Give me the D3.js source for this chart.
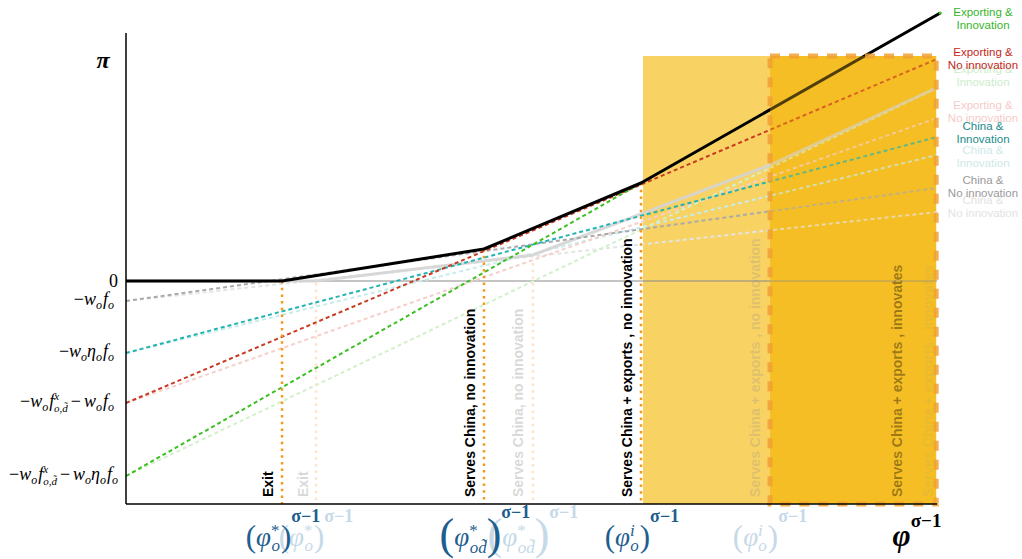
<!DOCTYPE html>
<html><head><meta charset="utf-8">
<script src="https://cdn.jsdelivr.net/npm/d3@7"></script>
<style>html,body{margin:0;padding:0;background:#fff;}svg{display:block;}</style>
</head><body>
<svg id="chart" width="1022" height="559"></svg>
<script>
// ---------------- data ----------------
const seriesNames = ["China & No innovation", "China & Innovation", "Exporting & No innovation", "Exporting & Innovation"];
const seriesIntercepts = [-2.0, -7.2, -12.2, -19.5];      // profit at zero productivity
const seriesEndX = [100, 100, 100, 100.4];
const seriesEndValues = [9.3, 14.4, 22.2, 26.8];          // profit at right end (baseline)
const ghostEndValues = [6.9, 12.6, 16.3, 19.3];           // profit at right end (faded scenario)
const envelopeX = [0, 19.24, 44.14, 63.5, 100.4];
const envelopeY = [0, 0, 3.2, 9.8, 26.8];
const ghostEnvX = [0, 23.43, 50.18, 79.41, 99.9];
const ghostEnvY = [0, 0, 2.6, 11.6, 19.3];
const thresholds = [19.24, 44.14, 63.5];
const thresholdTops = [0, 3.2, 9.8];
const ghostThresholds = [23.43, 50.18, 79.41];
const ghostThresholdTops = [-0.2, 1.8, 11.6];
const regionLabels = ["Exit", "Serves China, no innovation", "Serves China + exports , no innovation", "Serves China + exports , innovates"];
const lightRegion = [63.75, 79.41];
const darkRegion = [79.41, 99.9];
const regionTop = 22.5;
const yTickValues = [0, -2.0, -7.2, -12.2, -19.5];

// ---------------- setup ----------------
const svg = d3.select("#chart");
const x = d3.scaleLinear().domain([0, 100]).range([126, 937]);
const y = d3.scaleLinear().domain([-22.3, 24.8]).range([504, 33]);
const darkCol = ["#aaaaaa", "#22b3b3", "#c93a22", "#3cbf22"];
const fadeCol = ["#e4e4e4", "#c8ecec", "#f5d0cb", "#d3f0cb"];
const labDark = ["#9a9a9a", "#1d8b8b", "#c4271c", "#36b52a"];
const labFade = ["#e3e3e3", "#cfe8e9", "#f5cbc9", "#cdeccb"];
const serif = "'Liberation Serif', 'DejaVu Serif', serif";
const sans = "'Liberation Sans', Arial, sans-serif";
const line = d3.line().x(d => x(d[0])).y(d => y(d[1]));

// regions (base)
svg.append("rect").attr("x", x(lightRegion[0])).attr("y", y(regionTop))
  .attr("width", x(lightRegion[1]) - x(lightRegion[0])).attr("height", y(-22.3) - y(regionTop))
  .attr("fill", "#f8d263");
svg.append("rect").attr("x", x(darkRegion[0])).attr("y", y(regionTop))
  .attr("width", x(darkRegion[1]) - x(darkRegion[0])).attr("height", y(-22.3) - y(regionTop))
  .attr("fill", "#f5bf24");

// zero line
svg.append("line").attr("x1", x(0)).attr("x2", x(100)).attr("y1", y(0)).attr("y2", y(0))
  .attr("stroke", "#8a8a8a").attr("stroke-width", 1.2);

// faded dashed lines
seriesNames.forEach((n, i) => {
  svg.append("path").attr("d", line([[0, seriesIntercepts[i]], [100, ghostEndValues[i]]]))
    .attr("fill", "none").attr("stroke", fadeCol[i]).attr("stroke-width", 2).attr("stroke-dasharray", "4,3");
});
// faded envelope
svg.append("path").attr("d", line(ghostEnvX.map((v, i) => [v, ghostEnvY[i]])))
  .attr("fill", "none").attr("stroke", "#d4d4d4").attr("stroke-width", 3).attr("stroke-opacity", 0.9);

// faded threshold dotted lines
ghostThresholds.slice(0, 2).forEach((t, i) => {
  svg.append("line").attr("x1", x(t)).attr("x2", x(t)).attr("y1", y(ghostThresholdTops[i])).attr("y2", y(-22.3))
    .attr("stroke", "#fde3c8").attr("stroke-width", 2.5).attr("stroke-dasharray", "2.5,4.2");
});

// dark dashed lines
seriesNames.forEach((n, i) => {
  svg.append("path").attr("d", line([[0, seriesIntercepts[i]], [seriesEndX[i], seriesEndValues[i]]]))
    .attr("fill", "none").attr("stroke", darkCol[i]).attr("stroke-width", 2).attr("stroke-dasharray", "4,3");
});

// threshold dotted lines
thresholds.forEach((t, i) => {
  svg.append("line").attr("x1", x(t)).attr("x2", x(t)).attr("y1", y(thresholdTops[i])).attr("y2", y(-22.3))
    .attr("stroke", "#f39a1e").attr("stroke-width", 2.5).attr("stroke-dasharray", "2.5,4.2");
});

// envelope
svg.append("path").attr("d", line(envelopeX.map((v, i) => [v, envelopeY[i]])))
  .attr("fill", "none").attr("stroke", "#000").attr("stroke-width", 3).attr("stroke-linejoin", "round");
svg.append("circle").attr("cx", x(envelopeX[4])).attr("cy", y(envelopeY[4])).attr("r", 1.6).attr("fill", "#3cbf22");

// rotated region labels
function vlabel(px, text, fill, op) {
  svg.append("text").attr("transform", `translate(${px},497) rotate(-90)`)
    .attr("font-family", sans).attr("font-size", 14).attr("font-weight", "bold")
    .attr("fill", fill).attr("fill-opacity", op).text(text);
}
vlabel(x(thresholds[0]) - 9, regionLabels[0], "#000", 1);
vlabel(x(ghostThresholds[0]) - 8, regionLabels[0], "#cfcfcf", 0.8);
vlabel(x(thresholds[1]) - 9, regionLabels[1], "#000", 1);
vlabel(x(ghostThresholds[1]) - 10, regionLabels[1], "#cfcfcf", 0.8);
vlabel(x(thresholds[2]) - 9, regionLabels[2], "#000", 1);
vlabel(x(ghostThresholds[2]) - 10, regionLabels[2], "#8c8c8c", 0.25);
vlabel(x(darkRegion[1]) - 34, regionLabels[3], "#000", 0.55);
vlabel(x(darkRegion[1]) - 3, regionLabels[3], "#8c8c8c", 0.18);

// overlay on dark region
svg.append("rect").attr("x", x(darkRegion[0])).attr("y", y(regionTop))
  .attr("width", x(darkRegion[1]) - x(darkRegion[0])).attr("height", y(-22.3) - y(regionTop))
  .attr("fill", "#f5bf24").attr("fill-opacity", 0.32)
  .attr("stroke", "#f0a032").attr("stroke-opacity", 0.85).attr("stroke-width", 5).attr("stroke-dasharray", "10,9");

// axes
svg.append("line").attr("x1", x(0)).attr("x2", x(0)).attr("y1", y(24.8)).attr("y2", y(-22.3))
  .attr("stroke", "#000").attr("stroke-width", 1.5);
svg.append("line").attr("x1", x(0)).attr("x2", x(100)).attr("y1", y(-22.3)).attr("y2", y(-22.3))
  .attr("stroke", "#000").attr("stroke-width", 1.5);

// math text helper
function mathText(px, py, anchor, parts, color, op) {
  const t = svg.append("text").attr("x", px).attr("y", py).attr("text-anchor", anchor)
    .attr("font-family", serif).attr("fill", color).attr("fill-opacity", op == null ? 1 : op);
  let cur = 0;
  parts.forEach(p => {
    const [s, fs, shift, o] = p;
    const opt = o || {};
    const ts = t.append("tspan").text(s).attr("font-size", fs).attr("dy", shift - cur)
      .attr("font-style", opt.up ? "normal" : "italic");
    if (opt.dx) ts.attr("dx", opt.dx);
    if (opt.bold) ts.attr("font-weight", "bold");
    cur = shift;
  });
  return t;
}

// y-axis labels
const yLabelParts = [
  [["0", 18, 0, {up: true}]],
  [["\u2212", 18, 0, {up: true}], ["w", 18, 0], ["o", 12, 4], ["f", 18, 0, {dx: 1}], ["o", 12, 4]],
  [["\u2212", 18, 0, {up: true}], ["w", 18, 0], ["o", 12, 4], ["\u03b7", 18, 0], ["o", 12, 4], ["f", 18, 0, {dx: 1}], ["o", 12, 4]],
  [["\u2212", 18, 0, {up: true}], ["w", 18, 0], ["o", 12, 4], ["f", 18, 0, {dx: 1}], ["x", 11, -7], ["o,d\u0303", 11, 5, {dx: -5}],
   ["\u2212", 18, 0, {up: true, dx: 3}], ["w", 18, 0, {dx: 3}], ["o", 12, 4], ["f", 18, 0, {dx: 1}], ["o", 12, 4]],
  [["\u2212", 18, 0, {up: true}], ["w", 18, 0], ["o", 12, 4], ["f", 18, 0, {dx: 1}], ["x", 11, -7], ["o,d\u0303", 11, 5, {dx: -5}],
   ["\u2212", 18, 0, {up: true, dx: 3}], ["w", 18, 0, {dx: 3}], ["o", 12, 4], ["\u03b7", 18, 0], ["o", 12, 4], ["f", 18, 0, {dx: 1}], ["o", 12, 4]]
];
const yLabelRight = [118, 114, 114, 114, 118];
yTickValues.forEach((v, i) => {
  mathText(yLabelRight[i], y(v) + (i === 0 ? 6 : 4), "end", yLabelParts[i], "#000");
});
// pi label
mathText(103, 68, "middle", [["\u03c0", 24, 0, {bold: true}]], "#000");

// x-axis threshold labels
const blue = "#1d5e8e", blueFade = "#c6d9e8";
function phiLabel(px, kind, color) {
  let parts;
  if (kind === 0) parts = [["(", 31, 1, {up: true}], ["\u03c6", 27, 0], ["*", 17, -10, {up: true}], ["o", 17, 5, {dx: -8}], [")", 31, 1, {up: true, dx: 1}], ["\u03c3\u22121", 18, -24, {up: true, bold: true}]];
  if (kind === 1) parts = [["(", 44, 3, {up: true}], ["\u03c6", 27, 0], ["*", 17, -10, {up: true}], ["od\u0303", 17, 7, {dx: -8}], [")", 44, 3, {up: true}], ["\u03c3\u22121", 18, -28, {up: true, bold: true}]];
  if (kind === 2) parts = [["(", 31, 1, {up: true}], ["\u03c6", 27, 0], ["i", 17, -10], ["o", 17, 5, {dx: -4.5}], [")", 31, 1, {up: true, dx: 1}], ["\u03c3\u22121", 18, -24, {up: true, bold: true}]];
  mathText(px, 546, "middle", parts, color);
}
ghostThresholds.forEach((t, i) => phiLabel(x(t), i, blueFade));
thresholds.forEach((t, i) => phiLabel(x(t) + 1, i, blue));
mathText(917, 546, "middle", [["\u03c6", 31, 0, {bold: true}], ["\u03c3\u22121", 19, -19, {up: true, bold: true}]], "#000");

// right-side series labels
const darkOff = [-2, -5.5, -1, 5];
const fadeOff = [-6.5, 1, -7, -13];
function seriesLabel(i, cy, color) {
  const parts = seriesNames[i].split("& ");
  const t = svg.append("text").attr("x", 983).attr("text-anchor", "middle")
    .attr("font-family", sans).attr("font-size", 11.5).attr("fill", color);
  t.append("tspan").attr("x", 983).attr("y", cy - 2).text(parts[0] + "&");
  t.append("tspan").attr("x", 983).attr("y", cy + 11).text(parts[1]);
}
seriesNames.forEach((n, i) => seriesLabel(i, y(ghostEndValues[i]) + fadeOff[i], labFade[i]));
seriesNames.forEach((n, i) => seriesLabel(i, y(seriesEndValues[i]) + darkOff[i], labDark[i]));
</script>
</body></html>
